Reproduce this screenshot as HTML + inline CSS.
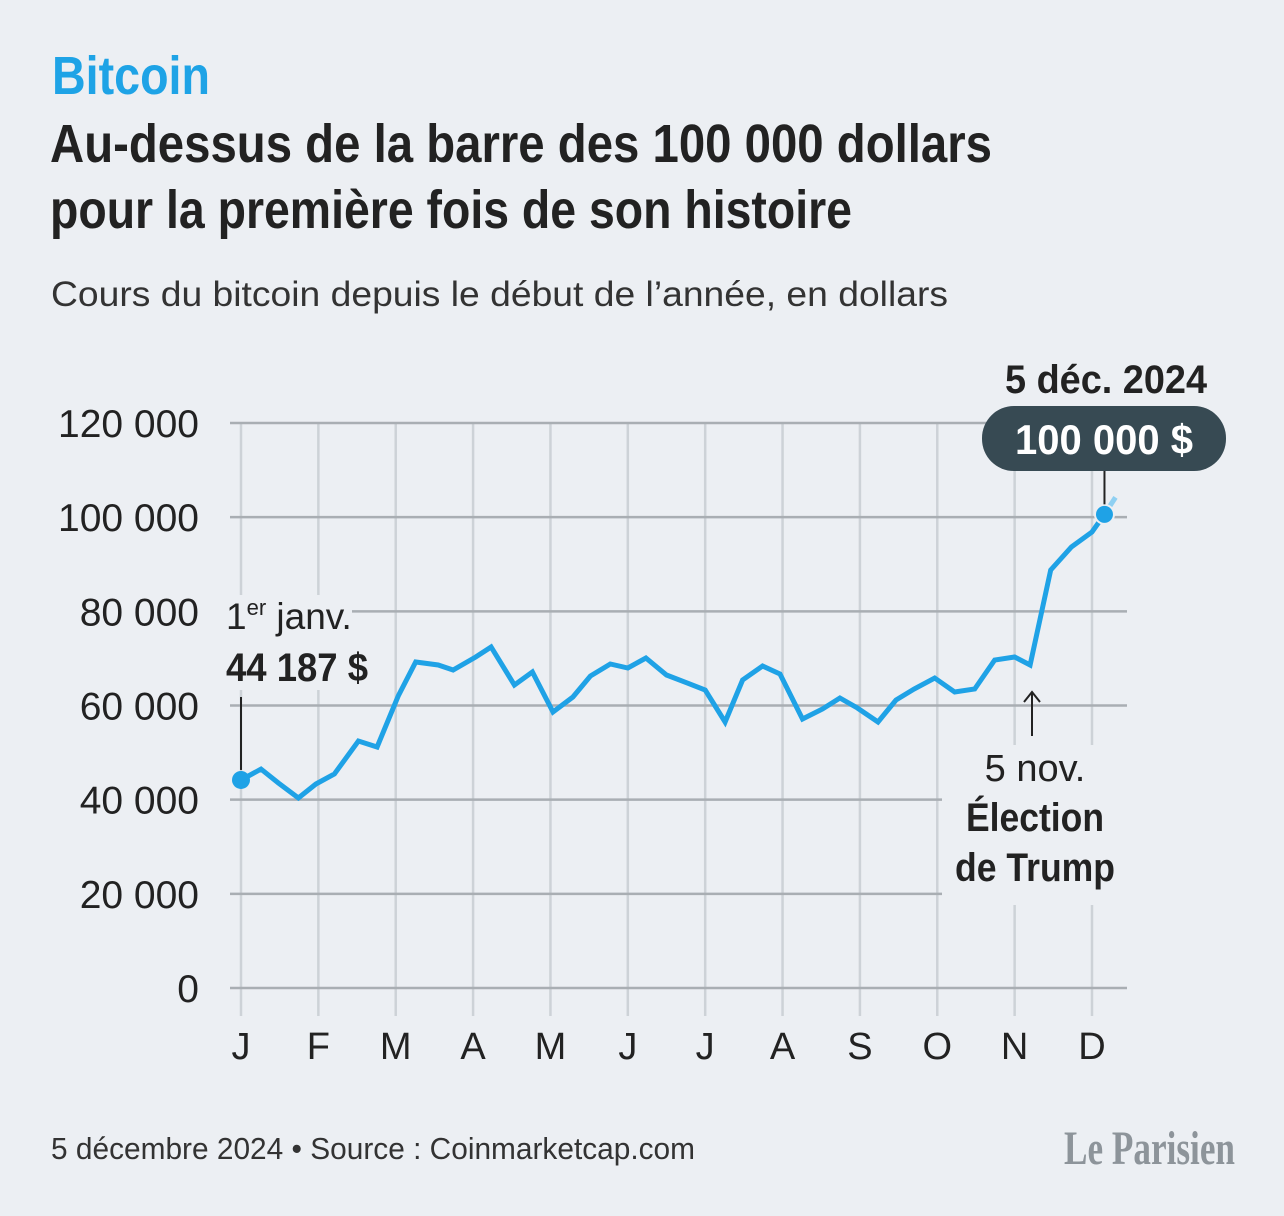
<!DOCTYPE html>
<html><head><meta charset="utf-8"><style>
html,body{margin:0;padding:0;background:#eceff3;}
svg{display:block;font-family:"Liberation Sans Narrow","Liberation Sans",sans-serif;}
</style></head><body>
<svg id="chart" width="1284" height="1216" viewBox="0 0 1284 1216" xmlns="http://www.w3.org/2000/svg">
<rect x="0" y="0" width="1284" height="1216" fill="#eceff3"/>
<text x="52" y="94" font-size="54" font-weight="bold" fill="#1ea3e6" textLength="158" lengthAdjust="spacingAndGlyphs">Bitcoin</text>
<text x="50" y="162" font-size="54" font-weight="bold" fill="#222" textLength="942" lengthAdjust="spacingAndGlyphs">Au-dessus de la barre des 100 000 dollars</text>
<text x="50" y="228" font-size="54" font-weight="bold" fill="#222" textLength="802" lengthAdjust="spacingAndGlyphs">pour la première fois de son histoire</text>
<text x="51" y="306" font-size="35" fill="#333" textLength="897" lengthAdjust="spacingAndGlyphs">Cours du bitcoin depuis le début de l’année, en dollars</text>
<g id="grid"></g>
<g id="yaxis"></g>
<g id="xaxis"></g>
<g id="series"></g>
<g id="annot"></g>
<text x="51" y="1159" font-size="31" fill="#333" textLength="644" lengthAdjust="spacingAndGlyphs">5 décembre 2024 • Source : Coinmarketcap.com</text>
<text x="1064" y="1164" font-size="48" font-weight="bold" fill="#8d949a" textLength="171" lengthAdjust="spacingAndGlyphs" font-family="Liberation Serif, serif">Le Parisien</text>
</svg>
<script>
const yTicks=[0,20000,40000,60000,80000,100000,120000];
const yTickLabels=["0","20 000","40 000","60 000","80 000","100 000","120 000"];
const monthLabels=["J","F","M","A","M","J","J","A","S","O","N","D"];
const monthDays=[0,31,60,91,121,152,182,213,244,274,305,335,366];
const days=[0,8,15,23,30,37,46,53,61,68,77,83,92,98,107,114,122,130,137,145,152,159,167,175,182,190,197,205,212,221,229,236,243,251,258,265,273,281,289,297,305,311,319,327,335,340];
const prices=[44187,46500,43540,40360,43330,45450,52460,51190,62020,69240,68600,67540,70300,72430,64360,67120,58620,61810,66270,68820,67970,70090,66480,64800,63300,56500,65420,68390,66690,57140,59260,61600,59470,56500,61170,63510,65840,62870,63510,69670,70300,68600,88780,93670,96850,100600];

const NS="http://www.w3.org/2000/svg";
const X0=241,PXM=(1092-241)/11,Y0=988,PXV=(988-423)/120000;
function xs(d){let i=0;while(i<11&&d>=monthDays[i+1])i++;return X0+PXM*(i+(d-monthDays[i])/(monthDays[i+1]-monthDays[i]));}
const ys=v=>Y0-v*PXV;
function mk(tag,attrs,parent){const e=document.createElementNS(NS,tag);for(const k in attrs)e.setAttribute(k,attrs[k]);parent.appendChild(e);return e;}
const grid=document.getElementById('grid'),yax=document.getElementById('yaxis'),xax=document.getElementById('xaxis'),ser=document.getElementById('series'),ann=document.getElementById('annot');
monthLabels.forEach((lab,i)=>{
  const d=monthDays[i];
  const l=mk('line',{x1:xs(d),x2:xs(d),y1:423,y2:1016,stroke:'#cdd2d7','stroke-width':2.5},grid);
  
  
  const t=mk('text',{x:xs(d),y:1059,'font-size':38,'text-anchor':'middle',fill:'#222'},xax);
  t.textContent=lab;
  
  
});
yTicks.forEach((v,i)=>{
  const l=mk('line',{x1:230,x2:1127,y1:ys(v),y2:ys(v),stroke:'#a9aeb3','stroke-width':2.5},grid);
  
  
  const t=mk('text',{x:199,y:ys(v)+14,'font-size':39,'text-anchor':'end',fill:'#222'},yax);
  t.textContent=yTickLabels[i];
  
  
});
const m1=mk('rect',{x:942,y:745,width:185,height:160,fill:'#eceff3'},grid);


const m2=mk('rect',{x:222,y:595,width:130,height:95,fill:'#eceff3'},grid);



const pts=days.map((d,i)=>xs(d).toFixed(1)+','+ys(prices[i]).toFixed(1)).join(' ');
const pl=mk('polyline',{points:pts,fill:'none',stroke:'#1fa2e6','stroke-width':5,'stroke-linejoin':'miter'},ser);


const n=days.length-1;
const lx=xs(days[n]),ly=ys(prices[n]);
const tail=mk('line',{x1:lx,y1:ly,x2:lx+11,y2:ly-17,stroke:'#8fd0f2','stroke-width':5},ser);


const d0=mk('circle',{cx:xs(days[0]),cy:ys(prices[0]),r:9,fill:'#1fa2e6'},ser);


const d1=mk('circle',{cx:lx,cy:ly,r:9.5,fill:'#1fa2e6',stroke:'#eceff3','stroke-width':2},ser);



const a1=mk('line',{x1:xs(0),x2:xs(0),y1:ys(prices[0])-10,y2:697,stroke:'#222','stroke-width':2},ann);


const t1=mk('text',{x:226,y:629,'font-size':37,fill:'#222'},ann);
t1.innerHTML='1<tspan font-size="22" dy="-14">er</tspan><tspan dy="14"> janv.</tspan>';


const t2=mk('text',{x:226,y:681,'font-size':40,'font-weight':'bold',fill:'#222',textLength:142,lengthAdjust:'spacingAndGlyphs'},ann);
t2.textContent='44 187 $';


const a2=mk('line',{x1:lx,x2:lx,y1:ly-10,y2:471,stroke:'#222','stroke-width':2},ann);


const t3=mk('text',{x:1106,y:393,'font-size':40,'font-weight':'bold',fill:'#222','text-anchor':'middle',textLength:202,lengthAdjust:'spacingAndGlyphs'},ann);
t3.textContent='5 déc. 2024';


const bx=mk('rect',{x:982,y:406,width:244,height:65,rx:32,fill:'#374a53'},ann);


const t4=mk('text',{x:1104,y:454,'font-size':42,'font-weight':'bold',fill:'#fff','text-anchor':'middle',textLength:178,lengthAdjust:'spacingAndGlyphs'},ann);
t4.textContent='100 000 $';


const ax=1032;
const ar=mk('path',{d:`M${ax},736 L${ax},692 M${ax-8},702 L${ax},692 L${ax+8},702`,fill:'none',stroke:'#222','stroke-width':2},ann);


const e1=mk('text',{x:1035,y:781,'font-size':38,fill:'#222','text-anchor':'middle'},ann);
e1.textContent='5 nov.';


const e2=mk('text',{x:1035,y:831,'font-size':40,'font-weight':'bold',fill:'#222','text-anchor':'middle',textLength:138,lengthAdjust:'spacingAndGlyphs'},ann);
e2.textContent='Élection';


const e3=mk('text',{x:1035,y:881,'font-size':40,'font-weight':'bold',fill:'#222','text-anchor':'middle',textLength:160,lengthAdjust:'spacingAndGlyphs'},ann);
e3.textContent='de Trump';


</script>
</body></html>
